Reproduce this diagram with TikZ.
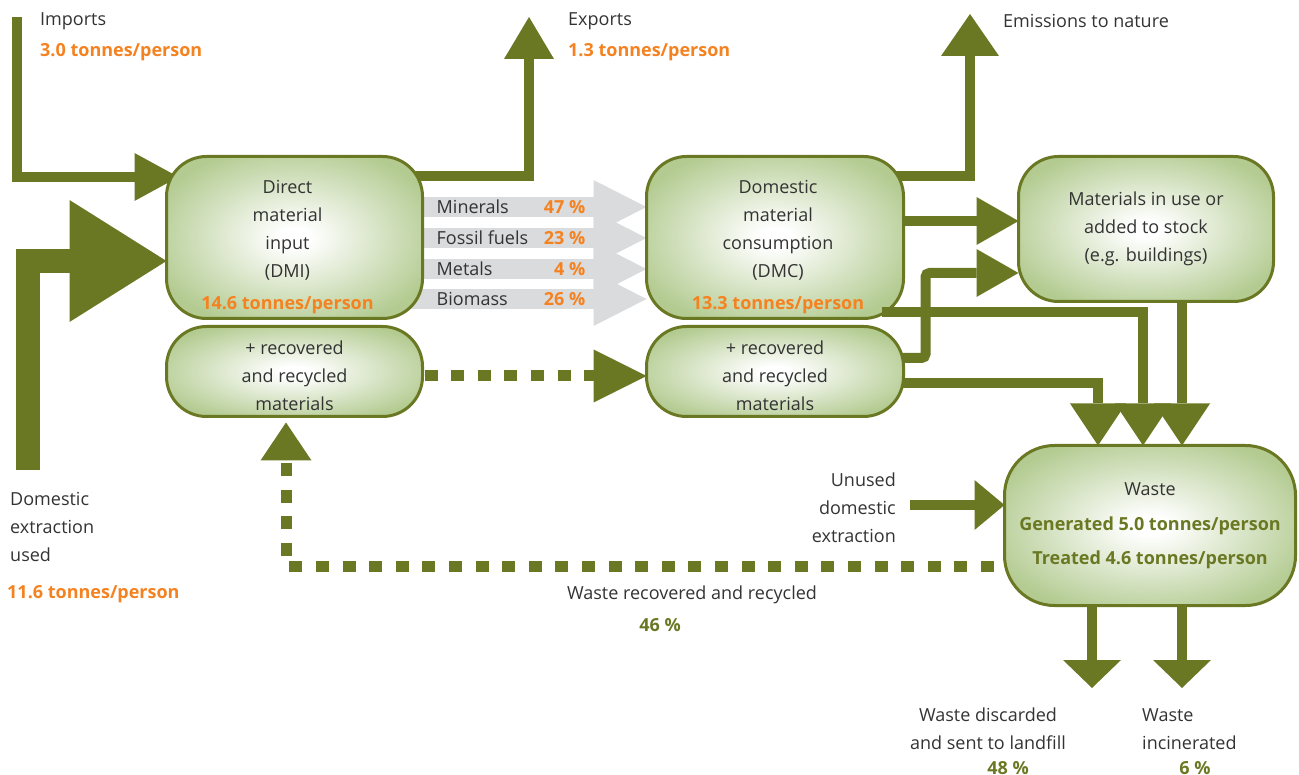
\documentclass[tikz,border=0pt]{standalone}
\usepackage{fontspec}
\setmainfont{Open Sans}
\usetikzlibrary{arrows.meta, positioning, calc}
\definecolor{oliv}{RGB}{107,120,35}
\definecolor{boxgreen}{RGB}{179,203,145}
\definecolor{orng}{RGB}{245,130,32}
\definecolor{ink}{RGB}{51,51,51}
\definecolor{flowgrey}{RGB}{218,219,221}
\pgfdeclareradialshading{boxglow}{\pgfpoint{0bp}{0bp}}{color(0bp)=(white); color(3bp)=(white); color(29bp)=(boxgreen); color(50bp)=(boxgreen)}
\pgfdeclarelayer{background}
\pgfsetlayers{background,main}
\newcommand{\tpp}[1]{#1 tonnes/person}

\begin{document}
\begin{tikzpicture}[
  x=1pt, y=-1pt,
  every node/.style={font=\fontsize{18}{28}\selectfont, text=ink, inner sep=0pt},
  box/.style={draw=oliv, line width=3pt, rounded corners=40pt, shade, shading=boxglow, outer sep=0pt},
  num/.style={text=orng, font=\fontsize{18}{28}\selectfont\bfseries},
  pct/.style={text=oliv, font=\fontsize{18}{28}\selectfont\bfseries},
  flow/.style={draw=oliv, line width=10pt, -{Triangle[length=42pt 0 0, width=50pt 0 0, line width=0pt 0 0]}},
  bigflow/.style={draw=oliv, line width=24pt, -{Triangle[length=97pt 0 0, width=122pt 0 0, line width=0pt 0 0]}},
  wasteflow/.style={draw=oliv, line width=10pt, -{Triangle[length=42pt 0 0, width=56pt 0 0, line width=0pt 0 0]}},
  outflow/.style={draw=oliv, line width=10pt, -{Triangle[length=28pt 0 0, width=58pt 0 0, line width=0pt 0 0]}},
  greyflow/.style={draw=flowgrey, line width=20pt, -{Triangle[length=53pt 0 0, width=54pt 0 0, line width=0pt 0 0]}},
  dotflow/.style={draw=oliv, line width=11pt, dash pattern=on 13pt off 13.6pt, -{Triangle[length=53pt 0 0, width=53pt 0 0, line width=0pt 0 0]}}
]
\useasboundingbox (0,0) rectangle (1299,775);

\node[box, minimum width=256pt, minimum height=162pt] (dmi) at (294.5,237.5) {};
\node[align=center] (dmitxt) at ([xshift=-7pt,yshift=-10pt]dmi.center) {Direct\\material\\input\\(DMI)\\[4pt]\textcolor{orng}{\bfseries\tpp{14.6}}};
\node[box, minimum width=256pt, minimum height=90pt] (recl) at (294.5,371.5) {};
\node[align=center] (recltxt) at ([yshift=-4.5pt]recl.center) {+ recovered\\and recycled\\materials};

\node[box, minimum width=257pt, minimum height=162pt] (dmc) at (775,237.5) {};
\node[align=center] (dmctxt) at ([xshift=3pt,yshift=-10pt]dmc.center) {Domestic\\material\\consumption\\(DMC)\\[4pt]\textcolor{orng}{\bfseries\tpp{13.3}}};
\node[box, minimum width=257pt, minimum height=90pt] (recr) at (775,371.5) {};
\node[align=center] (recrtxt) at ([yshift=-4.5pt]recr.center) {+ recovered\\and recycled\\materials};

\node[box, minimum width=255pt, minimum height=145pt, align=center] (stock) at (1146,229) {Materials in use or\\added to stock\\(e.g. buildings)};
\node[box, rounded corners=50pt, minimum width=291pt, minimum height=160pt, align=center] (waste) at (1150,525.5) {Waste\\[7pt]\textcolor{oliv}{\bfseries Generated \tpp{5.0}}\\[6pt]\textcolor{oliv}{\bfseries Treated \tpp{4.6}}};

\node[anchor=west] (imports) at (40,21) {Imports};
\node[num, anchor=west] (impval) at (40,52) {\tpp{3.0}};
\node[anchor=west] (exports) at (568,21) {Exports};
\node[num, anchor=west] (expval) at (568,52) {\tpp{1.3}};
\node[anchor=west] (emissions) at (1003,21) {Emissions to nature};
\node[anchor=west, align=left] (domext) at (10,527) {Domestic\\extraction\\used};
\node[num, anchor=west] (domval) at (7,594) {\tpp{11.6}};
\node[anchor=east, align=right] (unused) at (896,508) {Unused\\domestic\\extraction};
\node (reclbl) at (692,595) {Waste recovered and recycled};
\node[pct] (recpct) at (660,625) {46 \%};
\node[align=center] (landlbl) at (988,729) {Waste discarded\\and sent to landfill};
\node[pct] (landpct) at (1008,768) {48 \%};
\node[anchor=west, align=left] (incilbl) at (1142,729) {Waste\\incinerated};
\node[pct] (incipct) at (1195,768) {6 \%};

\node[anchor=west] (minerals) at ([xshift=14pt,yshift=30.5pt]dmi.east) {Minerals};
\node[num, anchor=east] (minpct) at ([xshift=-61pt,yshift=30.5pt]dmc.west) {47 \%};
\node[anchor=west] (fossil) at ([xshift=14pt,yshift=-0.5pt]dmi.east) {Fossil fuels};
\node[num, anchor=east] (fospct) at ([xshift=-61pt,yshift=-0.5pt]dmc.west) {23 \%};
\node[anchor=west] (metals) at ([xshift=14pt,yshift=-31.5pt]dmi.east) {Metals};
\node[num, anchor=east] (metpct) at ([xshift=-61pt,yshift=-31.5pt]dmc.west) {4 \%};
\node[anchor=west] (biomass) at ([xshift=14pt,yshift=-61.5pt]dmi.east) {Biomass};
\node[num, anchor=east] (biopct) at ([xshift=-61pt,yshift=-61.5pt]dmc.west) {26 \%};

\coordinate (impsrc) at (17,17);
\coordinate (desrc) at (28,470);
\coordinate (exptip) at (529,17);
\coordinate (emitip) at (970,14);
\coordinate (unsrc) at (910,505);
\coordinate (landtip) at (1092,688);
\coordinate (incitip) at (1182,688);

\begin{pgfonlayer}{background}
\draw[flow, -{Triangle[length=44pt 0 0, width=48pt 0 0, line width=0pt 0 0]}] (impsrc) |- ([xshift=12pt,yshift=60.5pt]dmi.west);
\draw[bigflow] (desrc) |- ([yshift=-23.5pt]dmi.west);
\draw[flow] ([xshift=-25pt,yshift=61.5pt]dmi.east) -| (exptip);
\draw[flow, -{Triangle[length=42pt 0 0, width=58pt 0 0, line width=0pt 0 0]}] ([xshift=-25pt,yshift=61.5pt]dmc.east) -| (emitip);

\draw[greyflow] ([xshift=-20pt,yshift=30.5pt]dmi.east) -- ([yshift=30.5pt]dmc.west);
\draw[greyflow] ([xshift=-20pt,yshift=-0.5pt]dmi.east) -- ([yshift=-0.5pt]dmc.west);
\draw[greyflow] ([xshift=-20pt,yshift=-31.5pt]dmi.east) -- ([yshift=-31.5pt]dmc.west);
\draw[greyflow] ([xshift=-20pt,yshift=-61.5pt]dmi.east) -- ([yshift=-61.5pt]dmc.west);

\draw[dotflow] ([xshift=2pt,yshift=-4.5pt]recl.east) -- ([yshift=-4.5pt]recr.west);
\draw[dotflow, dash phase=16pt, -{Triangle[length=38pt 0 0, width=51pt 0 0, line width=0pt 0 0]}] ([yshift=-40.5pt]waste.west) -| ([xshift=-8.5pt,yshift=-6pt]recl.south);

\draw[flow, -{Triangle[length=42pt 0 0, width=48pt 0 0, line width=0pt 0 0]}] ([xshift=-5pt,yshift=16.5pt]dmc.east) -- ([yshift=8pt]stock.west);
\draw[flow, rounded corners=4pt, -{Triangle[length=42pt 0 0, width=48pt 0 0, line width=0pt 0 0]}] ([xshift=-5pt,yshift=13.5pt]recr.east) -- ++(27,0) |- ([yshift=-44pt]stock.west);
\draw[wasteflow] ([xshift=-5pt,yshift=-12pt]recr.east) -| ([xshift=-52pt]waste.north);
\draw[wasteflow] ([xshift=36pt,yshift=5pt]stock.south) -- ([xshift=32pt]waste.north);
\draw[flow, -{Triangle[length=30pt 0 0, width=50pt 0 0, line width=0pt 0 0]}] (unsrc) -- (unsrc -| waste.west);
\draw[outflow] (landtip |- waste.south) -- (landtip);
\draw[outflow] (incitip |- waste.south) -- (incitip);
\end{pgfonlayer}
\draw[wasteflow] ([xshift=-22pt,yshift=-74.5pt]dmc.east) -| ([xshift=-7pt]waste.north);
\end{tikzpicture}
\end{document}
